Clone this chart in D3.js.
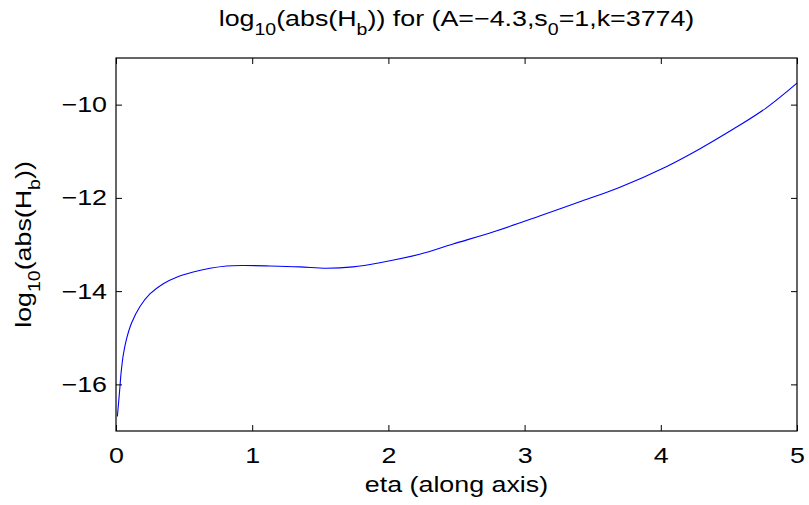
<!DOCTYPE html>
<html><head><meta charset="utf-8">
<script src="https://cdn.jsdelivr.net/npm/d3@7"></script>
<style>
body{margin:0;background:#fff}svg{display:block}
text{font-family:"Liberation Sans",Arial,sans-serif}
.sx{transform:scaleX(1.22);transform-box:fill-box;transform-origin:center}
.sxr{transform:scaleX(1.22);transform-box:fill-box;transform-origin:right center}
</style>
</head><body>
<svg id="c" width="809" height="505"></svg>
<script>
const eta = [0.01,0.029,0.037,0.054,0.078,0.115,0.176,0.249,0.347,0.445,0.567,0.69,0.812,0.934,1.13,1.35,1.546,1.74,1.937,2.23,2.475,2.79,3.11,3.40,3.70,4.04,4.285,4.53,4.77,5.0];
const logH = [-16.69,-16.05,-15.76,-15.36,-15.02,-14.68,-14.33,-14.06,-13.84,-13.70,-13.59,-13.51,-13.46,-13.45,-13.46,-13.48,-13.51,-13.48,-13.39,-13.21,-12.99,-12.71,-12.39,-12.09,-11.77,-11.33,-10.95,-10.53,-10.08,-9.54];
const xTicks = [0,1,2,3,4,5];
const yTicks = [-16,-14,-12,-10];

const svg = d3.select("#c");
const L=116,R=797,T=58,B=431;
const x = d3.scaleLinear().domain([0,5]).range([L,R]);
const y = d3.scaleLinear().domain([-17,-9]).range([B,T]);
const fs = 22, sub = 16, tl = 6, sh = 9;

const g = svg.append("g");
const line = d3.line().x((d,i)=>x(eta[i])).y((d,i)=>y(logH[i])).curve(d3.curveCatmullRom.alpha(0.5));
g.append("path").datum(eta).attr("d",line).attr("fill","none").attr("stroke","#0000ff").attr("stroke-width",1.1);

g.append("rect").attr("x",L).attr("y",T).attr("width",R-L).attr("height",B-T).attr("fill","none").attr("stroke","#000").attr("stroke-width",1.2);

const xb = svg.append("g").attr("transform",`translate(0,${B})`).call(d3.axisBottom(x).tickValues(xTicks).tickSizeInner(-tl).tickSizeOuter(0).tickPadding(16).tickFormat(d3.format("d")));
const xt = svg.append("g").attr("transform",`translate(0,${T})`).call(d3.axisTop(x).tickValues(xTicks).tickSizeInner(-tl).tickSizeOuter(0).tickFormat(""));
const yl = svg.append("g").attr("transform",`translate(${L},0)`).call(d3.axisLeft(y).tickValues(yTicks).tickSizeInner(-tl).tickSizeOuter(0).tickPadding(9).tickFormat(d=>"\u2212"+Math.abs(d)));
const yr = svg.append("g").attr("transform",`translate(${R},0)`).call(d3.axisRight(y).tickValues(yTicks).tickSizeInner(-tl).tickSizeOuter(0).tickFormat(""));
[xb,xt,yl,yr].forEach(a=>{a.select(".domain").remove();a.selectAll("line").attr("stroke","#000");a.selectAll("text").attr("font-size",fs).attr("fill","#000").attr("font-family","Liberation Sans, Arial, sans-serif");});
xb.selectAll("text").attr("class","sx");
yl.selectAll("text").attr("class","sxr");

function subLabel(sel, parts){
  parts.forEach(p=>{
    const t = sel.append("tspan").text(p[0]);
    if(p[1]){ t.attr("font-size",sub).attr("dy",p[1]); }
    else if(p[2]){ t.attr("dy",p[2]); }
  });
}
const title = svg.append("text").attr("class","sx").attr("x",(L+R)/2).attr("y",26).attr("text-anchor","middle").attr("font-size",fs).attr("fill","#000");
subLabel(title,[["log"],["10",sh],["(abs(H",0,-sh],["b",sh],[")) for (A=\u22124.3,s",0,-sh],["0",sh],["=1,k=3774)",0,-sh]]);

svg.append("text").attr("class","sx").attr("x",(L+R)/2).attr("y",492).attr("text-anchor","middle").attr("font-size",fs).attr("fill","#000").text("eta (along axis)");

const yg = svg.append("g").attr("transform",`translate(31,${(T+B)/2}) rotate(-90)`);
const yt = yg.append("text").attr("class","sx").attr("text-anchor","middle").attr("font-size",fs).attr("fill","#000");
subLabel(yt,[["log"],["10",sh],["(abs(H",0,-sh],["b",sh],["))",0,-sh]]);
</script>
</body></html>
